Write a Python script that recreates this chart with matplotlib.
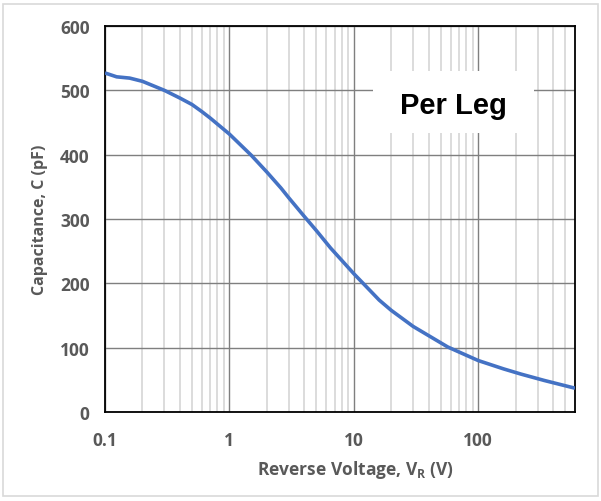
import matplotlib
matplotlib.use('Agg')
import matplotlib.pyplot as plt
from matplotlib.patches import Rectangle
from matplotlib.ticker import FixedLocator, FixedFormatter, NullFormatter

# Capacitance vs reverse voltage
vr = [0.1, 0.124, 0.158, 0.2, 0.3, 0.4, 0.5, 0.6, 0.7, 1, 1.5, 2, 2.6, 3, 4, 5, 6.5,
      10, 16, 20, 30, 57, 100, 160, 220, 340, 600]
cap = [527, 521, 519, 514, 500, 488, 478, 467, 457, 432, 399, 373, 348, 333, 304, 282, 255,
       215, 174, 158, 133, 101, 80, 67, 59, 49, 37]

x_ticks = [0.1, 1, 10, 100]
x_ticklabels = ['0.1', '1', '10', '100']
y_ticks = [0, 100, 200, 300, 400, 500, 600]

plt.rcParams['font.family'] = ['Open Sans', 'DejaVu Sans']
plt.rcParams['mathtext.fontset'] = 'custom'
plt.rcParams['mathtext.bf'] = 'Open Sans:bold'
plt.rcParams['mathtext.rm'] = 'Open Sans:bold'

grey = '#595959'

fig = plt.figure(figsize=(6.01, 5.02), dpi=100)
# outer chart border
fig.patches.append(Rectangle((3/601, 5/502), 595/601, 492/502, transform=fig.transFigure,
                             fill=False, ec='#d9d9d9', lw=1.2))

ax = fig.add_axes([105/601, 89/502, 470/601, 386/502])
ax.set_xscale('log')
ax.set_xlim(0.1, 600)
ax.set_ylim(0, 600)

minor = [m * 10.0**e for e in range(-1, 3) for m in range(2, 10)]
minor = [v for v in minor if v < 600]
ax.xaxis.set_major_locator(FixedLocator(x_ticks))
ax.xaxis.set_major_formatter(FixedFormatter(x_ticklabels))
ax.xaxis.set_minor_locator(FixedLocator(minor))
ax.xaxis.set_minor_formatter(NullFormatter())
ax.set_yticks(y_ticks)

ax.set_axisbelow(True)
ax.grid(which='minor', axis='x', color='#d9d9d9', lw=1.3)
ax.grid(which='major', axis='both', color='#7f7f7f', lw=1.0)

ax.plot(vr, cap, color='#4472C4', lw=2.6, zorder=3, solid_joinstyle='round',
        solid_capstyle='butt')

for s in ax.spines.values():
    s.set_color('black')
    s.set_linewidth(1.3)

ax.tick_params(which='both', length=0)
ax.tick_params(axis='x', pad=14, labelsize=12.5, labelcolor=grey)
ax.tick_params(axis='y', pad=11, labelsize=12.5, labelcolor=grey)
for lab in ax.get_xticklabels() + ax.get_yticklabels():
    lab.set_fontweight('bold')

ax.set_xlabel(r'Reverse Voltage, V$_\mathbf{R}$ (V)', fontsize=12.5, fontweight='bold',
              color=grey, va='center')
ax.set_ylabel('Capacitance, C (pF)', fontsize=11.5, fontweight='bold', color=grey,
              va='center')
ax.xaxis.set_label_coords(0.532, -0.148)
ax.yaxis.set_label_coords(-0.138, 0.5)

# white box behind the label
ax.add_patch(Rectangle((0.5696, 0.7228), 0.3432, 0.1606, transform=ax.transAxes,
                       fc='white', ec='none', zorder=1.5))
ax.text(0.7404, 0.795, 'Per Leg', transform=ax.transAxes, ha='center', va='center',
        fontsize=21, fontweight='bold', family=['Liberation Sans'], color='black', zorder=4)

fig.savefig('out.png', dpi=100)
